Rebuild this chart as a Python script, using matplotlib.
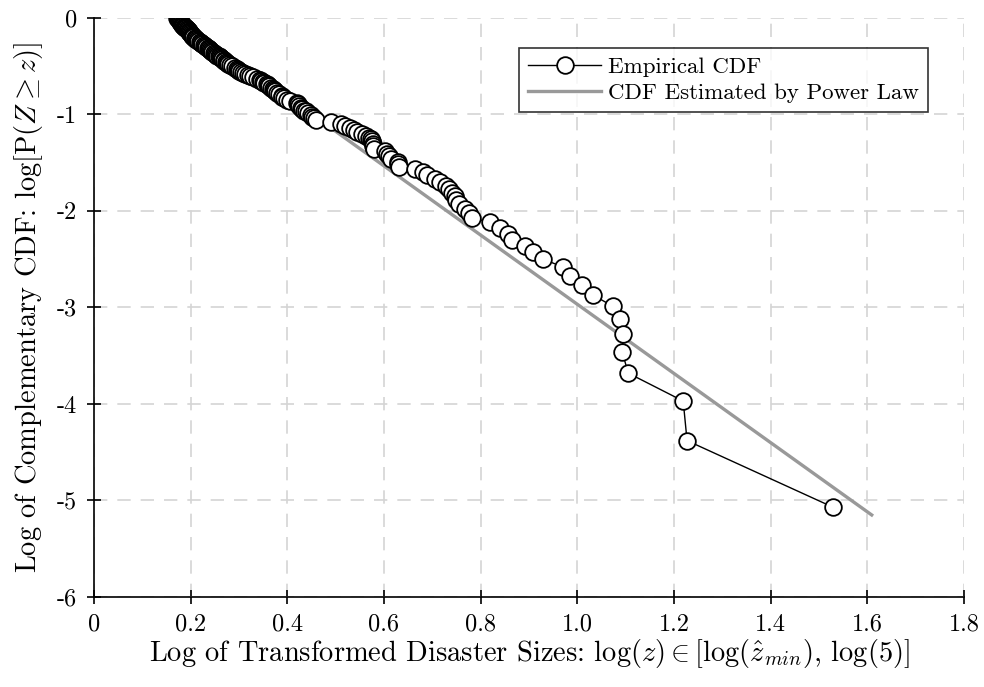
import matplotlib
matplotlib.use("Agg")
import matplotlib.pyplot as plt

plt.rcParams['font.family'] = 'serif'
plt.rcParams['font.serif'] = ['cmr10']
plt.rcParams['mathtext.fontset'] = 'cm'
plt.rcParams['axes.unicode_minus'] = False

# empirical CCDF points (log z, log P(Z >= z))
log_z = [0.172, 0.174, 0.175, 0.176, 0.177, 0.178, 0.179, 0.180, 0.181, 0.182,
         0.183, 0.184, 0.185, 0.187, 0.188, 0.189, 0.190, 0.191, 0.192, 0.194,
         0.195, 0.196, 0.197, 0.198, 0.199, 0.200, 0.202, 0.203, 0.204, 0.205,
         0.208, 0.210, 0.211, 0.213, 0.216, 0.219, 0.221, 0.222, 0.224, 0.227,
         0.229, 0.232, 0.235, 0.237, 0.238, 0.240, 0.243, 0.245, 0.248, 0.250,
         0.253, 0.255, 0.258, 0.260, 0.261, 0.263, 0.265, 0.268, 0.270, 0.273,
         0.275, 0.278, 0.282, 0.285, 0.292, 0.295, 0.298, 0.301, 0.305, 0.308,
         0.313, 0.318, 0.323, 0.328, 0.338, 0.343, 0.346, 0.349, 0.351, 0.357,
         0.360, 0.363, 0.367, 0.370, 0.372, 0.374, 0.379, 0.382, 0.388, 0.390,
         0.393, 0.399, 0.406, 0.420, 0.422, 0.425, 0.429, 0.430, 0.435, 0.438,
         0.443, 0.448, 0.452, 0.455, 0.460, 0.490, 0.512, 0.520, 0.530, 0.537,
         0.545, 0.555, 0.562, 0.568, 0.574, 0.576, 0.577, 0.578, 0.580, 0.603,
         0.606, 0.610, 0.615, 0.628, 0.630, 0.632, 0.665, 0.680, 0.690, 0.705,
         0.715, 0.728, 0.735, 0.741, 0.747, 0.750, 0.755, 0.768, 0.775, 0.782,
         0.819, 0.840, 0.857, 0.865, 0.892, 0.908, 0.929, 0.970, 0.985, 1.010,
         1.032, 1.074, 1.088, 1.095, 1.093, 1.105, 1.219, 1.227, 1.529]
log_ccdf = [0.00, -0.01, -0.01, -0.02, -0.03, -0.03, -0.04, -0.05, -0.05, -0.06,
            -0.07, -0.07, -0.08, -0.09, -0.09, -0.10, -0.11, -0.11, -0.12, -0.13,
            -0.13, -0.14, -0.15, -0.16, -0.16, -0.17, -0.18, -0.19, -0.19, -0.20,
            -0.21, -0.22, -0.22, -0.23, -0.24, -0.25, -0.26, -0.26, -0.27, -0.28,
            -0.29, -0.30, -0.31, -0.32, -0.32, -0.33, -0.34, -0.35, -0.36, -0.37,
            -0.38, -0.39, -0.40, -0.41, -0.41, -0.42, -0.43, -0.44, -0.45, -0.46,
            -0.47, -0.48, -0.49, -0.50, -0.52, -0.53, -0.54, -0.55, -0.56, -0.57,
            -0.58, -0.59, -0.60, -0.61, -0.63, -0.64, -0.65, -0.66, -0.67, -0.69,
            -0.70, -0.71, -0.73, -0.74, -0.75, -0.76, -0.78, -0.79, -0.81, -0.82,
            -0.83, -0.85, -0.86, -0.88, -0.89, -0.91, -0.93, -0.94, -0.96, -0.97,
            -0.99, -1.01, -1.03, -1.04, -1.06, -1.08, -1.10, -1.12, -1.14, -1.16,
            -1.18, -1.20, -1.22, -1.24, -1.26, -1.28, -1.31, -1.33, -1.36, -1.38,
            -1.41, -1.43, -1.46, -1.49, -1.51, -1.54, -1.57, -1.60, -1.63, -1.67,
            -1.70, -1.74, -1.77, -1.81, -1.85, -1.89, -1.93, -1.98, -2.02, -2.07,
            -2.12, -2.18, -2.24, -2.30, -2.36, -2.43, -2.50, -2.58, -2.67, -2.77,
            -2.87, -2.99, -3.12, -3.28, -3.46, -3.68, -3.97, -4.38, -5.07]

# fitted power law line (end points)
fit_x = [0.172, 1.609]
fit_y = [0.0, -5.15]

xticks = [0, 0.2, 0.4, 0.6, 0.8, 1.0, 1.2, 1.4, 1.6, 1.8]
xtick_labels = ['0', '0.2', '0.4', '0.6', '0.8', '1.0', '1.2', '1.4', '1.6', '1.8']
yticks = [0, -1, -2, -3, -4, -5, -6]
ytick_labels = ['0', '-1', '-2', '-3', '-4', '-5', '-6']

fig = plt.figure(figsize=(9.84, 6.87), dpi=100)
ax = fig.add_axes([0.0955, 0.131, 0.8842, 0.843])

ax.plot(fit_x, fit_y, color='#999999', lw=2.4, zorder=2,
        label='CDF Estimated by Power Law')
ax.plot(log_z, log_ccdf, '-o', color='black', lw=1.0, ms=12,
        mfc='white', mec='black', mew=1.3, zorder=3, label='Empirical CDF')

ax.set_xlim(0, 1.8)
ax.set_ylim(-6, 0)
ax.set_xticks(xticks)
ax.set_xticklabels(xtick_labels)
ax.set_yticks(yticks)
ax.set_yticklabels(ytick_labels)
ax.tick_params(direction='inout', length=10, width=1.2, labelsize=17.5, pad=7)

ax.spines['top'].set_visible(False)
ax.spines['right'].set_visible(False)
ax.spines['left'].set_linewidth(1.2)
ax.spines['bottom'].set_linewidth(1.2)
ax.grid(True, ls=(0, (8, 6)), color='#d4d4d4', lw=1.2)
ax.set_axisbelow(True)
for s in ax.spines.values():
    s.set_clip_on(False)

ax.set_xlabel(r'Log of Transformed Disaster Sizes: $\log(z) \in [\log(\hat{z}_{min}),\, \log(5)]$',
              fontsize=20.5, labelpad=1)
ax.set_ylabel(r'Log of Complementary CDF: $\log[\mathrm{P}(Z \geq z)]$',
              fontsize=20.5, labelpad=9)

h, l = ax.get_legend_handles_labels()
leg = ax.legend(h[::-1], l[::-1], loc='upper right', bbox_to_anchor=(0.972, 0.968),
                fontsize=16.5, frameon=True, fancybox=False, handlelength=3.2,
                borderpad=0.4, labelspacing=0.25, handletextpad=0.3)
leg.get_frame().set_edgecolor('black')
leg.get_frame().set_linewidth(1.2)

fig.savefig('out.png', dpi=100)
